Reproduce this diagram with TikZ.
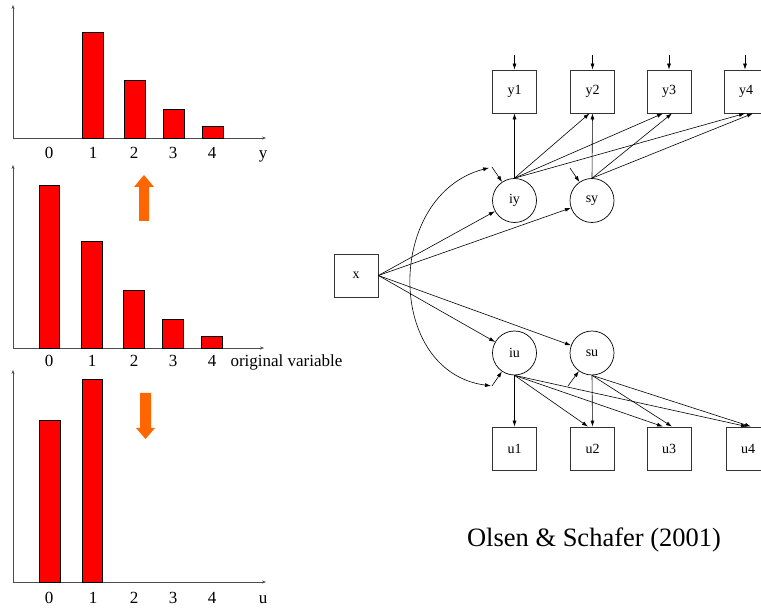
\documentclass[tikz,border=0pt]{standalone}
\usepackage{fontspec}
\setmainfont{Liberation Serif}
\usetikzlibrary{arrows.meta}
\definecolor{barred}{RGB}{255,0,0}
\definecolor{flow}{RGB}{255,102,0}

\tikzset{
  axis/.style={draw=black!70, line width=0.9pt, -{Stealth[length=4pt,width=3pt]}},
  bar/.style={fill=barred, draw=black, line width=0.8pt},
  tick/.style={anchor=base, font=\fontsize{17}{20}\selectfont},
  obs/.style={draw=black!80, line width=0.8pt, minimum width=44pt, minimum height=43pt, inner sep=0pt, font=\fontsize{14}{16}\selectfont},
  lat/.style={circle, draw=black, line width=0.7pt, minimum size=44pt, inner sep=0pt, font=\fontsize{14}{16}\selectfont},
  link/.style={line width=0.6pt, -{Latex[length=6pt,width=4pt]}},
  bigarrow/.style={fill=flow, draw=none}
}

\begin{document}
\begin{tikzpicture}[x=1pt, y=-1pt]
    \useasboundingbox (0,0) rectangle (761,609);

    % Top chart (y)
    \draw[axis] (13,138) -- (13,5);
    \draw[axis] (13,138) -- (266,138);
    \draw[bar] (82,138) rectangle (103,32);
    \draw[bar] (124,138) rectangle (145,80);
    \draw[bar] (163,138) rectangle (184,109);
    \draw[bar] (202,138) rectangle (223,126);
    \node[tick] at (49,159) {0};
    \node[tick] at (93,159) {1};
    \node[tick] at (134,159) {2};
    \node[tick] at (173,159) {3};
    \node[tick] at (212,159) {4};
    \node[tick] at (263,159) {y};

    % Middle chart (original variable)
    \draw[axis] (13,348) -- (13,165);
    \draw[axis] (13,348) -- (264,348);
    \draw[bar] (39,348) rectangle (59,185);
    \draw[bar] (81,348) rectangle (102,241);
    \draw[bar] (123,348) rectangle (144,290);
    \draw[bar] (162,348) rectangle (183,319);
    \draw[bar] (201,348) rectangle (222,336);
    \node[tick] at (49,367) {0};
    \node[tick] at (92,367) {1};
    \node[tick] at (134,367) {2};
    \node[tick] at (173,367) {3};
    \node[tick] at (212,367) {4};
    \node[tick, anchor=base west] at (227,367) {original variable};

    % Bottom chart (u)
    \draw[axis] (13,582) -- (13,370);
    \draw[axis] (13,582) -- (266,582);
    \draw[bar] (39,582) rectangle (60,420);
    \draw[bar] (82,582) rectangle (102,379);
    \node[tick] at (49,603) {0};
    \node[tick] at (93,603) {1};
    \node[tick] at (134,603) {2};
    \node[tick] at (173,603) {3};
    \node[tick] at (212,603) {4};
    \node[tick] at (263,603) {u};

    % Orange arrows
    \fill[bigarrow] (139,221) -- (139,187) -- (134,187) -- (144,175) -- (154,187) -- (149,187) -- (149,221) -- cycle;
    \fill[bigarrow] (140,393) -- (140,428) -- (136,428) -- (145.5,439) -- (155,428) -- (151,428) -- (151,393) -- cycle;

    % Path diagram
    \node[obs] (x) at (356,275.5) {x};
    \node[obs] (y1) at (514.5,91.5) {y1};
    \node[obs] (y2) at (592.5,91.5) {y2};
    \node[obs] (y3) at (669,91.5) {y3};
    \node[obs] (y4) at (746,91.5) {y4};
    \node[obs] (u1) at (514.5,448.5) {u1};
    \node[obs] (u2) at (592.5,448.5) {u2};
    \node[obs] (u3) at (669,448.5) {u3};
    \node[obs] (u4) at (748,448.5) {u4};
    \node[lat] (iy) at (514.5,200.5) {iy};
    \node[lat] (sy) at (592,200.5) {sy};
    \node[lat] (iu) at (514.5,353) {iu};
    \node[lat] (su) at (592,353) {su};

    % Residuals
    \coordinate (eiy) at (492,167);
    \coordinate (esy) at (570,168);
    \coordinate (eiu) at (492,386);
    \coordinate (esu) at (568,386);
    \draw[link] (eiy) -- (iy);
    \draw[link] (esy) -- (sy);
    \draw[link] (eiu) -- (iu);
    \draw[link] (esu) -- (su);
    \draw[link] ([yshift=15pt]y1.north) -- (y1.north);
    \draw[link] ([yshift=15pt]y2.north) -- (y2.north);
    \draw[link] ([yshift=15pt]y3.north) -- (y3.north);
    \draw[link] ([yshift=15pt,xshift=-1pt]y4.north) -- ([xshift=-1pt]y4.north);
    \draw[line width=0.6pt, {Latex[length=6pt,width=4pt]}-{Latex[length=6pt,width=4pt]}, shorten <=3pt, shorten >=1pt]
        (eiy) .. controls (385,195) and (385,372) .. (eiu);

    % Regressions on x
    \draw[link] (x.east) -- (iy);
    \draw[link] (x.east) -- (sy);
    \draw[link] (x.east) -- (iu);
    \draw[link] (x.east) -- (su);

    % Loadings
    \draw[link] (iy.north) -- (y1.south);
    \draw[link] (iy.north) -- ([xshift=-3pt]y2.south);
    \draw[link] (iy.north) -- ([xshift=-6pt]y3.south);
    \draw[link] (iy.north) -- ([xshift=-1pt]y4.south);
    \draw[link] (sy.north) -- (y2.south);
    \draw[link] (sy.north) -- ([xshift=3pt]y3.south);
    \draw[link] (sy.north) -- ([xshift=7pt]y4.south);
    \draw[link] (iu.south) -- (u1.north);
    \draw[link] (iu.south) -- ([xshift=-4.5pt]u2.north);
    \draw[link] (iu.south) -- ([xshift=-6pt]u3.north);
    \draw[link] (iu.south) -- ([xshift=-1pt]u4.north);
    \draw[link] (su.south) -- (u2.north);
    \draw[link] (su.south) -- ([xshift=3pt]u3.north);
    \draw[link] (su.south) -- ([xshift=3pt]u4.north);

    \node[anchor=base, font=\fontsize{26.5}{30}\selectfont] (src) at (594,547) {Olsen \& Schafer (2001)};
\end{tikzpicture}
\end{document}
